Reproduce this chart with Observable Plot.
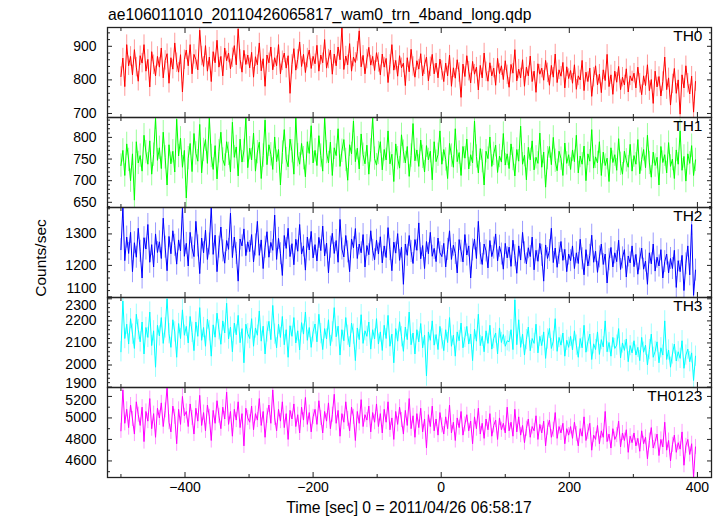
<!DOCTYPE html>
<html><head><meta charset="utf-8">
<script src="https://cdn.jsdelivr.net/npm/d3@7"></script>
<script src="https://cdn.jsdelivr.net/npm/@observablehq/plot@0.6"></script>
<style>
body{margin:0;background:#fff;}
#chart{position:relative;width:723px;height:516px;font-family:"Liberation Sans",Arial,sans-serif;color:#000;overflow:hidden;}
</style></head><body><div id="chart"></div>
<script>
// time bins (sec), start and width
const binStart = -500, binWidth = 3;

const th0 = [
810,865,780,905,842,870,815,890,838,796,872,850,905,826,861,779,884,845,812,870,838,895,806,858,878,790,866,832,910,851,823,875,764,860,
889,842,905,818,876,860,830,948,871,840,902,826,868,795,884,851,918,838,870,812,895,857,880,833,866,902,845,952,861,823,888,846,874,
836,882,808,869,845,910,827,863,781,874,851,898,830,866,842,905,818,857,880,835,872,760,846,893,829,861,913,840,876,822,865,889,834,870,
848,903,826,874,851,920,835,862,889,817,877,842,898,860,955,831,871,845,908,826,868,852,885,946,839,873,818,862,897,844,870,828,881,
852,815,877,838,864,792,846,905,829,858,811,872,836,850,783,866,824,891,840,808,857,832,878,812,845,868,797,839,876,818,850,806,862,
828,795,850,812,874,781,836,805,860,822,748,847,810,872,826,791,855,817,838,770,843,806,880,824,796,851,812,835,784,864,819,842,801,857,
815,778,846,820,890,797,832,806,860,781,838,812,871,795,826,763,848,817,835,799,858,821,784,843,808,877,792,830,811,852,776,839,804,
828,790,845,772,812,800,858,768,823,795,835,751,808,842,785,817,762,830,798,876,780,815,757,826,793,840,771,808,785,833,764,812,797,
820,776,838,790,756,812,783,845,768,801,730,826,779,810,752,795,868,771,806,725,788,834,760,800,698,815,776,842,790,758,811,704,795];

const th1 = [
735,770,712,785,748,700,762,655,790,741,758,722,805,766,738,792,715,760,845,747,776,728,812,754,690,783,739,768,720,842,757,798,731,770,
660,752,786,721,809,763,745,830,718,771,795,740,846,757,726,781,704,768,812,749,735,790,762,720,835,754,778,711,796,743,769,846,730,
775,748,810,722,766,789,705,758,840,737,783,761,726,801,744,772,690,765,818,750,732,796,768,715,845,759,738,786,752,709,790,763,827,741,
770,735,804,758,722,846,766,741,789,712,776,758,820,733,769,795,748,701,783,762,838,744,775,727,808,760,739,782,715,770,846,751,736,
764,790,725,772,748,815,739,761,698,785,752,729,806,767,741,779,710,758,832,746,771,733,794,755,720,781,748,768,702,790,744,760,815,
738,772,749,705,786,758,731,820,744,765,712,779,752,796,727,760,741,838,756,718,774,745,690,768,751,801,733,762,782,719,757,743,809,736,
762,728,785,750,711,772,745,826,738,759,702,777,748,792,725,754,740,810,731,766,685,752,779,737,800,746,723,768,751,712,787,740,760,
726,771,744,805,718,757,738,780,700,762,745,818,729,755,741,790,712,766,735,752,698,776,742,760,724,797,739,715,768,747,731,784,722,
758,738,795,716,749,772,730,805,741,708,766,735,754,690,779,742,760,718,788,733,750,705,771,738,815,724,756,699,762,740,781,712,748];

const th2 = [
1250,1384,1215,1290,1238,1305,1180,1272,1226,1318,1245,1160,1288,1252,1330,1210,1266,1195,1300,1241,1275,1222,1350,1258,1183,1292,1237,1310,1264,1204,1281,1246,1384,1229,
1270,1198,1305,1255,1228,1340,1262,1174,1287,1240,1312,1219,1268,1384,1235,1296,1180,1258,1322,1246,1207,1279,1251,1366,1225,1290,1238,1150,1284,1262,1316,1231,1275,
1244,1298,1211,1265,1340,1232,1281,1190,1258,1307,1226,1273,1248,1360,1219,1286,1237,1168,1295,1254,1318,1228,1269,1202,1283,1245,1330,1236,1262,1185,1290,1249,1308,1224,
1266,1214,1289,1247,1325,1230,1271,1176,1258,1302,1238,1279,1210,1346,1252,1227,1295,1243,1180,1284,1256,1317,1222,1268,1240,1298,1195,1263,1234,1310,1248,1218,1280,
1236,1291,1208,1262,1225,1320,1250,1183,1274,1239,1301,1216,1258,1140,1268,1232,1295,1244,1206,1282,1248,1335,1221,1263,1190,1276,1237,1305,1229,1254,1212,1287,1240,
1228,1270,1195,1251,1310,1219,1264,1238,1176,1282,1245,1211,1298,1233,1262,1160,1249,1284,1222,1340,1237,1203,1268,1246,1192,1279,1228,1255,1300,1214,1261,1236,1188,1270,
1224,1258,1197,1280,1231,1175,1262,1217,1305,1240,1205,1256,1228,1290,1186,1248,1213,1270,1232,1150,1265,1222,1247,1318,1209,1255,1194,1238,1276,1216,1251,1180,1236,
1215,1262,1190,1240,1206,1283,1221,1170,1250,1198,1232,1296,1210,1245,1178,1227,1268,1203,1236,1144,1218,1257,1195,1240,1212,1280,1187,1224,1250,1163,1230,1208,1262,
1196,1235,1172,1220,1255,1188,1214,1140,1240,1205,1268,1182,1226,1198,1250,1160,1212,1236,1176,1222,1190,1248,1130,1215,1180,1232,1120,1205,1262,1170,1330,1105,1185];

const th3 = [
2060,2290,2120,2185,2095,2210,2140,2075,2230,2160,2105,2195,2050,2170,2125,2240,2088,2155,1990,2180,2132,2215,2098,2168,2300,2142,2080,2205,2150,2035,2188,2120,2250,2135,
2175,2100,2220,2148,2065,2195,2130,2260,2112,2170,2085,2208,2155,2040,2182,2126,2235,2160,2094,2200,2145,2280,2118,2172,2060,2190,2137,2225,2101,2165,2010,2185,2142,
2120,2210,2085,2168,2135,2245,2108,2176,2050,2150,2198,2115,2270,2140,2078,2185,2125,2220,2092,2160,2035,2178,2130,2215,2100,2155,2068,2192,2140,2240,2112,2170,2080,2150,
2186,2105,2230,2142,2070,2165,2118,2205,2088,2150,2260,2128,2176,2045,2160,2110,2215,2135,2082,2190,2140,2020,2168,2115,2228,2098,2155,2130,2195,2072,2160,2118,2210,
2095,2150,2066,2180,2120,2225,2085,2140,2010,2165,2108,2196,2128,2062,2172,2115,2240,2092,2145,2050,2160,2105,2188,2078,2135,1950,2150,2112,2200,2090,2138,2070,2175,
2118,2065,2160,2102,2215,2085,2135,2040,2150,2110,2190,2078,2125,2175,2095,2140,2020,2162,2108,2230,2088,2130,2060,2155,2098,2180,2072,2120,2145,2050,2168,2102,2138,2085,
2110,2105,2160,2070,2295,2092,2205,2080,2140,2045,2115,2172,2065,2120,2098,2185,2055,2130,2088,2150,2030,2118,2166,2075,2108,2210,2062,2125,2090,2145,2040,2112,2080,
2130,2068,2155,2090,2035,2120,2078,2180,2058,2105,2140,2025,2096,2070,2150,2048,2115,2082,2200,2060,2102,2040,2125,2075,2090,2165,2032,2100,2066,2118,2015,2088,2055,
2110,2045,2080,2020,2125,2058,2090,2000,2070,2140,2035,2062,2105,2010,2078,2045,2200,2025,2068,1990,2050,2095,2018,2060,2030,2110,1985,2045,2072,2015,2055,1930,2040];

const th0123 = [
4880,5260,4950,5080,4910,5120,4990,4850,5150,5030,4930,5100,4780,5060,4970,5180,4900,5040,4820,5090,5000,5140,4920,5070,5283,4960,4870,5110,5010,4760,5080,4940,5200,5020,
5060,4920,5130,5000,4850,5090,4970,5210,4930,5050,4880,5120,5010,4790,5070,4950,5160,5020,4900,5100,4990,5240,4940,5060,4830,5080,4980,5150,4910,5040,4740,5090,5000,
4960,5110,4890,5040,4980,5180,4930,5060,4820,5020,5120,4950,5260,5000,4880,5080,4970,5150,4910,5040,4800,5070,4990,5130,4920,5030,4860,5100,4980,5190,4940,5050,4870,5010,
5080,4940,5160,5000,4860,5060,4970,5140,4900,5030,5220,4950,5070,4830,5040,4960,5150,4990,4880,5100,5010,4790,5060,4950,5170,4920,5030,4980,5110,4870,5050,4960,5130,
4920,5040,4860,5080,4960,5150,4890,5000,4800,5060,4940,5100,4980,4850,5070,4930,5180,4900,5020,4820,5040,4910,5090,4870,4990,4720,5030,4920,5110,4880,4990,4840,5050,
4930,4850,5010,4900,5120,4860,4960,4790,5000,4910,5060,4840,4940,5030,4880,4970,4760,5010,4900,5090,4850,4950,4810,4990,4890,5040,4830,4930,4980,4800,5000,4890,4950,4860,
5100,4880,4960,4830,5080,4870,5010,4840,4930,4770,4900,4990,4820,4920,4880,5020,4800,4940,4860,4970,4740,4910,4980,4820,4890,5050,4810,4920,4860,4950,4760,4900,4840,
4920,4810,4960,4850,4740,4900,4830,5010,4790,4870,4950,4700,4840,4800,4930,4760,4880,4820,5060,4780,4850,4720,4900,4800,4840,4970,4730,4860,4790,4890,4680,4830,4770,
4860,4740,4810,4690,4880,4760,4820,4620,4790,4910,4720,4780,4850,4650,4800,4730,4960,4700,4790,4600,4750,4840,4680,4770,4710,4870,4560,4740,4800,4660,4760,4450,4730];

const panelNames = ["TH0", "TH1", "TH2", "TH3", "TH0123"];
const panelSeries = [th0, th1, th2, th3, th0123];
const panelColors = ["#ff0000", "#00ff00", "#0000ff", "#00ffff", "#ff00ff"];
const panelErrors = [29, 27, 35, 46, 70];
const panelDomains = [[688, 956], [638, 846], [1098, 1384], [1898, 2306], [4446, 5283]];
const majorTicksY = [[700, 800, 900], [650, 700, 750, 800], [1100, 1200, 1300], [1900, 2000, 2100, 2200, 2300], [4600, 4800, 5000, 5200]];
const minorStepY = [20, 10, 20, 20, 100];
const xDomain = [-521, 422];
const xMajor = [-400, -200, 0, 200, 400];
const xMinor = [-500, -300, -100, 100, 300];

const titleText = "ae106011010_20110426065817_wam0_trn_4band_long.qdp";
const yLabelText = "Counts/sec";
const xLabelText = "Time [sec] 0 = 2011/04/26 06:58:17";

const FONT = '"Liberation Sans", Arial, Helvetica, sans-serif';
const chart = document.getElementById("chart");
const panelTop = 27, panelH = 90, pad = 12, bottomExtra = 40;
const fmtX = d => d < 0 ? "\u2212" + Math.abs(d) : String(d);
const fmtY = d => String(d);
const frameColor = "#222";

// pixel distance of a tick from the bottom / top edge of its panel
const distBottom = (i, v) => (v - panelDomains[i][0]) / (panelDomains[i][1] - panelDomains[i][0]) * panelH;
const distTop = (i, v) => (panelDomains[i][1] - v) / (panelDomains[i][1] - panelDomains[i][0]) * panelH;

panelSeries.forEach((vals, i) => {
  const data = vals.map((v, j) => ({t: binStart + j * binWidth, v}));
  const err = panelErrors[i];
  const color = panelColors[i];
  const [lo, hi] = panelDomains[i];
  const minor = d3.range(Math.ceil(lo / minorStepY[i]) * minorStepY[i], hi, minorStepY[i])
    .filter(v => !majorTicksY[i].includes(v));
  const isLast = i === panelSeries.length - 1;
  const mb = isLast ? bottomExtra : pad;
  const tickCommon = {tickFormat: () => "", label: null, stroke: frameColor, strokeWidth: 1};
  // labels that crowd a neighbouring panel's edge label get nudged apart
  const nb = i < 4 ? Math.min(...majorTicksY[i + 1].map(v => distTop(i + 1, v))) : 99;
  const pt = i > 0 ? Math.min(...majorTicksY[i - 1].map(v => distBottom(i - 1, v))) : 99;
  const lowSum = v => distBottom(i, v) + nb;
  const highSum = v => distTop(i, v) + pt;
  const lowEdge = majorTicksY[i].filter(v => lowSum(v) < 12);
  const highEdge = majorTicksY[i].filter(v => highSum(v) < 12);
  const normal = majorTicksY[i].filter(v => !lowEdge.includes(v) && !highEdge.includes(v));
  const lab = {anchor: "left", tickSize: 0, tickPadding: 11, label: null, fontSize: 14, tickFormat: fmtY};
  const marks = [
    Plot.ruleX(data, {x: "t", y1: d => d.v - err, y2: d => d.v + err, stroke: color, strokeOpacity: 0.4, strokeWidth: 1, clip: true}),
    Plot.line(data, {x: "t", y: "v", stroke: color, strokeWidth: 1, curve: "linear", clip: true}),
    Plot.axisY({ticks: majorTicksY[i], anchor: "left", tickSize: 5, dx: 5, ...tickCommon}),
    Plot.axisY({ticks: minor, anchor: "left", tickSize: 3, dx: 3, ...tickCommon}),
    Plot.axisY({ticks: majorTicksY[i], anchor: "right", tickSize: 5, dx: -5, ...tickCommon}),
    Plot.axisY({ticks: minor, anchor: "right", tickSize: 3, dx: -3, ...tickCommon}),
    Plot.axisX({ticks: xMajor, anchor: "bottom", tickSize: 5, dy: -5, ...tickCommon}),
    Plot.axisX({ticks: xMinor, anchor: "bottom", tickSize: 3, dy: -3, ...tickCommon}),
    Plot.axisX({ticks: xMajor, anchor: "top", tickSize: 5, dy: 5, ...tickCommon}),
    Plot.axisX({ticks: xMinor, anchor: "top", tickSize: 3, dy: 3, ...tickCommon}),
    Plot.axisY({ticks: normal, ...lab}),
    Plot.frame({stroke: frameColor, strokeWidth: 1.3}),
    Plot.text([panelNames[i]], {frameAnchor: "top-right", text: d => d, dx: -9, dy: 2, textAnchor: "end", lineAnchor: "top", fontSize: 15.5})
  ];
  lowEdge.forEach(v => marks.push(Plot.axisY({ticks: [v], ...lab, dy: lowSum(v) < 4 ? -8 : -4})));
  highEdge.forEach(v => marks.push(Plot.axisY({ticks: [v], ...lab, dy: highSum(v) < 4 ? 7 : 4})));
  if (isLast) {
    marks.push(Plot.axisX({ticks: xMajor, anchor: "bottom", tickSize: 0, tickPadding: 5, tickFormat: fmtX, label: null, fontSize: 14}));
  }
  const svg = Plot.plot({
    width: 723,
    height: panelH + pad + mb,
    marginTop: pad, marginBottom: mb, marginLeft: 107, marginRight: 12,
    x: {domain: xDomain},
    y: {domain: panelDomains[i]},
    style: {background: "transparent", overflow: "visible", fontFamily: FONT, fontSize: "14px", color: "#000", position: "absolute", left: "0px", top: (panelTop + i * panelH - pad) + "px"},
    marks
  });
  chart.appendChild(svg);
});

// title, axis labels
const ns = "http://www.w3.org/2000/svg";
const over = document.createElementNS(ns, "svg");
over.setAttribute("width", 723); over.setAttribute("height", 516);
over.style.position = "absolute"; over.style.left = "0"; over.style.top = "0";
over.style.pointerEvents = "none";
function addText(str, attrs) {
  const t = document.createElementNS(ns, "text");
  for (const k in attrs) t.setAttribute(k, attrs[k]);
  t.setAttribute("font-family", FONT);
  t.textContent = str;
  over.appendChild(t);
}
addText(titleText, {x: 108, y: 20, "font-size": 15.7});
addText(yLabelText, {x: 0, y: 0, "font-size": 15.5, "text-anchor": "middle", transform: "translate(46,258) rotate(-90)"});
addText(xLabelText, {x: 409, y: 513, "font-size": 15.7, "text-anchor": "middle"});
chart.appendChild(over);
</script>
</body></html>
